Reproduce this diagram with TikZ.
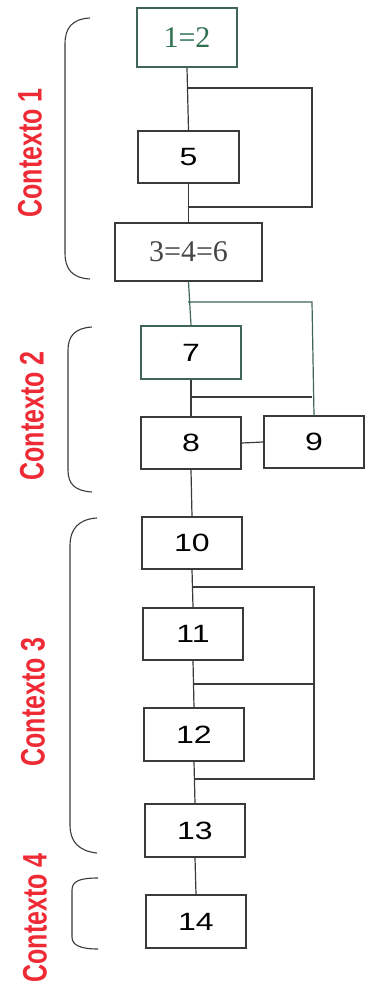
\documentclass[tikz,border=0pt]{standalone}
\usepackage{fontspec}
\usepackage{graphicx}
\setmainfont{Liberation Serif}
\newfontfamily\digsans{Liberation Sans}
\newfontfamily\labsans{Liberation Sans}
\definecolor{linegray}{HTML}{3A3A3A}
\definecolor{greenline}{HTML}{3F6656}
\definecolor{greentext}{HTML}{2E7050}
\definecolor{serifgray}{HTML}{454545}
\definecolor{ctxred}{HTML}{EE2A35}
\newcommand{\sdig}[1]{\scalebox{1.28}[1]{\digsans\fontsize{25}{25}\selectfont #1}}
\newcommand{\ctxlabel}[1]{\scalebox{1}[1.36]{\labsans\bfseries\fontsize{25}{25}\selectfont #1}}
\tikzset{
  stepbox/.style={draw=linegray, line width=1.3pt, rectangle, inner sep=0pt, minimum width=100pt, minimum height=52pt},
  conn/.style={draw=linegray, line width=1.2pt},
  gconn/.style={draw=greenline, line width=1.2pt},
  brace/.style={draw=linegray, line width=1.1pt},
  ctx/.style={rotate=90, text=ctxred, inner sep=0pt}
}
\begin{document}
\begin{tikzpicture}[x=1pt,y=-1pt]
\useasboundingbox (0,0) rectangle (368,988);
% boxes
\node[stepbox, draw=greenline, minimum height=59pt] (b12) at (187,37.5) {\textcolor{greentext}{\fontsize{30}{30}\selectfont 1=2}};
\node[stepbox, minimum width=101pt] (b5) at (188.5,157) {\sdig{5}};
\node[stepbox, minimum width=147pt, minimum height=58pt] (b346) at (188.5,252) {\textcolor{serifgray}{\fontsize{30}{30}\selectfont 3=4=6}};
\node[stepbox, draw=greenline, minimum height=53pt] (b7) at (191,352.5) {\sdig{7}};
\node[stepbox] (b8) at (191,443) {\sdig{8}};
\node[stepbox] (b9) at (314,442) {\sdig{9}};
\node[stepbox] (b10) at (192,543) {\sdig{10}};
\node[stepbox] (b11) at (193,634) {\sdig{11}};
\node[stepbox, minimum height=53pt] (b12n) at (194,734.5) {\sdig{12}};
\node[stepbox, minimum height=53pt] (b13) at (195,830.5) {\sdig{13}};
\node[stepbox, minimum height=53pt] (b14) at (196,921.5) {\sdig{14}};
% junction coordinates
\coordinate (j1a) at (188,88);
\coordinate (j1b) at (312,88);
\coordinate (j1c) at (312,207);
\coordinate (j1d) at (188,207);
\coordinate (j2a) at (188,302);
\coordinate (j2b) at (312,302);
\coordinate (j2c) at (190,397);
\coordinate (j2d) at (312,397);
\coordinate (j3a) at (192,587);
\coordinate (j3b) at (314,587);
\coordinate (j3c) at (314,779);
\coordinate (j3d) at (194,779);
\coordinate (j3e) at (193,684);
\coordinate (j3f) at (314,684);
% main spine
\draw[conn] (b12.south) -- (b5.north);
\draw[conn] (b5.south) -- (b346.north);
\draw[gconn] (b346.south) -- (b7.north);
\draw[conn] (b7.south) -- (b8.north);
\draw[conn] (b8.south) -- (b10.north);
\draw[conn] (b10.south) -- (b11.north);
\draw[conn] (b11.south) -- (b12n.north);
\draw[conn] (b12n.south) -- (b13.north);
\draw[conn] (b13.south) -- (b14.north);
% side paths
\draw[conn] (j1a) -- (j1b) -- (j1c) -- (j1d);
\draw[gconn] (j2a) -- (j2b) -- (b9.north);
\draw[conn] (j2c) -- (j2d);
\draw[conn] (b8.east) -- (b9.west);
\draw[conn] (j3a) -- (j3b) -- (j3c) -- (j3d);
\draw[conn] (j3e) -- (j3f);
% braces
\draw[brace] (90,18) .. controls (72,19) and (65,28) .. (65,44) -- (65,253) .. controls (65,269) and (72,278) .. (90,279);
\draw[brace] (92,327) .. controls (75,328) and (68,336) .. (68,350) -- (68,470) .. controls (68,484) and (75,491) .. (92,492);
\draw[brace] (97,518) .. controls (78,519) and (70,530) .. (70,545) -- (70,825) .. controls (70,841) and (78,851) .. (97,853);
\draw[brace] (98,878) .. controls (80,878) and (72,881) .. (72,890) -- (72,937) .. controls (72,945) and (80,949) .. (98,949);
% labels
\node[ctx] (c1) at (30,153) {\ctxlabel{Contexto 1}};
\node[ctx] (c2) at (32,416) {\ctxlabel{Contexto 2}};
\node[ctx] (c3) at (33,702) {\ctxlabel{Contexto 3}};
\node[ctx] (c4) at (35,918) {\ctxlabel{Contexto 4}};
\end{tikzpicture}
\end{document}
